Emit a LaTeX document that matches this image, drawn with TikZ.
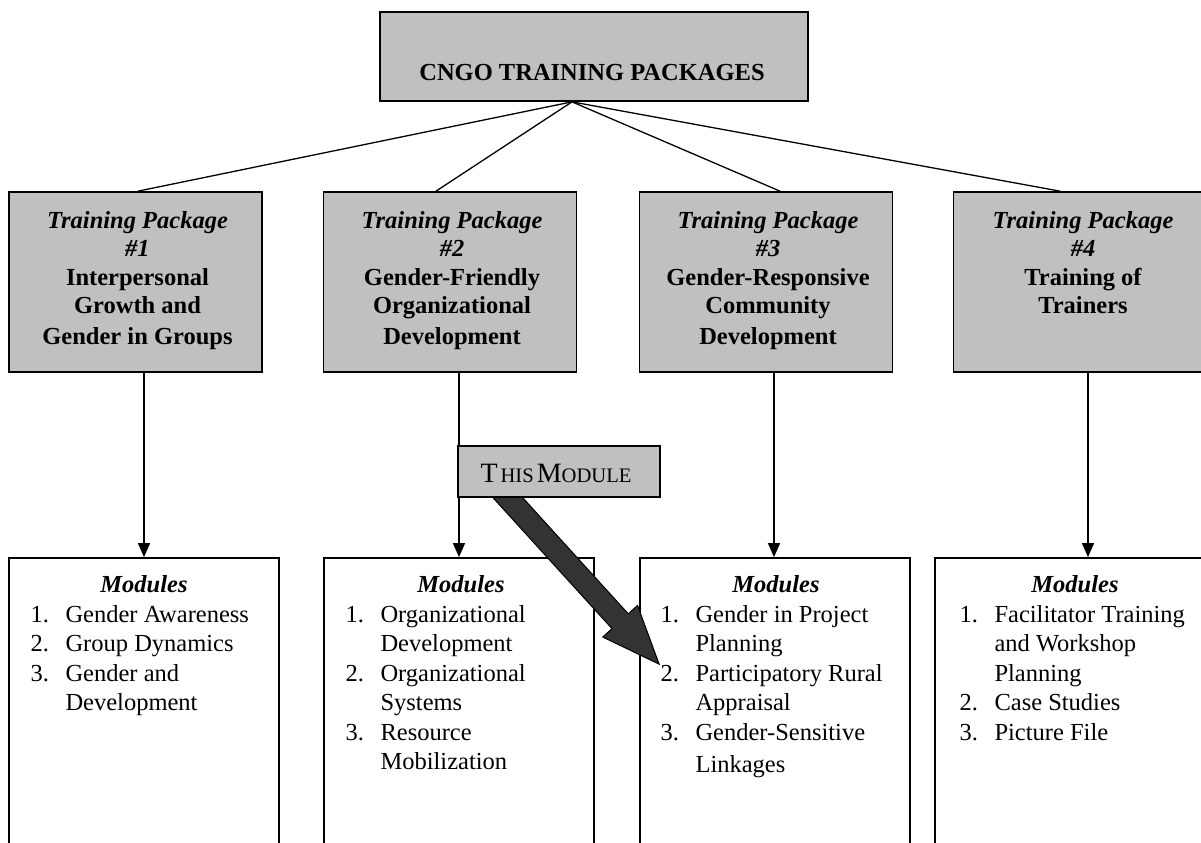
\documentclass[tikz,border=0pt]{standalone}
\usepackage{fontspec}
\setmainfont{Liberation Serif}
\usetikzlibrary{arrows.meta,calc}
\definecolor{boxgray}{HTML}{C0C0C0}
\definecolor{arrowgray}{HTML}{333333}
\newcommand\pkgfont{\fontsize{12.25}{14.25}\selectfont}
\newcommand\modfont{\fontsize{12.25}{14.75}\selectfont}
\newcommand\modlist[1]{\begin{tabular}[t]{@{}p{17.5pt}@{}l@{}}#1\end{tabular}}
\newcommand\pkglist[1]{\begin{tabular}[t]{@{}c@{}}#1\end{tabular}}
\begin{document}
\begin{tikzpicture}[x=0.5pt,y=-0.5pt,
  frame/.style={draw,line width=0.85pt,inner sep=0pt},
  titlebox/.style={frame,fill=boxgray,minimum width=214pt,minimum height=44.5pt},
  pkgbox/.style={frame,fill=boxgray,minimum width=126.5pt,minimum height=90pt},
  modbox/.style={frame,fill=white,minimum width=135pt,minimum height=152pt},
  thisbox/.style={frame,fill=boxgray,minimum width=101pt,minimum height=25.5pt},
  txt/.style={inner sep=0pt,anchor=base},
  listtxt/.style={inner sep=0pt,anchor=base west},
  conn/.style={line width=0.65pt},
  downarrow/.style={conn,-{Triangle[width=6pt,length=7pt]}},
  fatarrow/.style={fill=arrowgray,draw=black,line width=0.5pt,line join=miter}]
\useasboundingbox (0,0) rectangle (1201,842);

% module boxes (open at the bottom of the page)
\node[modbox] (m1) at (144,710) {};
\node[modbox] (m2) at (459,710) {};
\node[modbox] (m3) at (775,710) {};
\node[modbox] (m4) at (1070,710) {};

% training package boxes
\node[pkgbox] (p1) at (135.5,282) {};
\node[pkgbox] (p2) at (450,282) {};
\node[pkgbox] (p3) at (766,282) {};
\node[pkgbox] (p4) at (1080,282) {};

% title box
\node[titlebox] (top) at (594,56.5) {};
\node[txt] (toptext) at (592,80) {\pkgfont\bfseries CNGO TRAINING PACKAGES};

% package labels
\node[txt] (p1text) at (137.5,228) {\pkgfont\bfseries\pkglist{\itshape Training Package\\ \itshape \#1\\ Interpersonal\\ Growth and\\[1pt] Gender in Groups}};
\node[txt] (p2text) at (452,228) {\pkgfont\bfseries\pkglist{\itshape Training Package\\ \itshape \#2\\ Gender-Friendly\\ Organizational\\[1pt] Development}};
\node[txt] (p3text) at (768,228) {\pkgfont\bfseries\pkglist{\itshape Training Package\\ \itshape \#3\\ Gender-Responsive\\ Community\\[1pt] Development}};
\node[txt] (p4text) at (1083,228) {\pkgfont\bfseries\pkglist{\itshape Training Package\\ \itshape \#4\\ Training of\\ Trainers}};

% module headings
\node[txt] (h1) at ($(m1.north)+(0,35)$) {\modfont\bfseries\itshape Modules};
\node[txt] (h2) at ($(m2.north)+(2,35)$) {\modfont\bfseries\itshape Modules};
\node[txt] (h3) at ($(m3.north)+(1,35)$) {\modfont\bfseries\itshape Modules};
\node[txt] (h4) at ($(m4.north)+(5,35)$) {\modfont\bfseries\itshape Modules};

% module lists
\node[listtxt] (l1) at ($(m1.north west)+(22,65)$) {\modfont\modlist{1. & Gender Awareness\\ 2. & Group Dynamics\\ 3. & Gender and\\ & Development}};
\node[listtxt] (l2) at ($(m2.north west)+(22,65)$) {\modfont\modlist{1. & Organizational\\ & Development\\ 2. & Organizational\\ & Systems\\ 3. & Resource\\ & Mobilization}};
\node[listtxt] (l3) at ($(m3.north west)+(21,65)$) {\modfont\modlist{1. & Gender in Project\\ & Planning\\ 2. & Participatory Rural\\ & Appraisal\\ 3. & Gender-Sensitive\\[1.5pt] & Linkages}};
\node[listtxt] (l4) at ($(m4.north west)+(25,65)$) {\modfont\modlist{1. & Facilitator Training\\ & and Workshop\\ & Planning\\ 2. & Case Studies\\ 3. & Picture File}};

% connectors from the title box
\coordinate (apex) at ($(top.south)+(-22,0)$);
\draw[conn] (apex) -- ($(p1.north)+(2.5,0)$);
\draw[conn] (apex) -- ($(p2.north)+(-14,0)$);
\draw[conn] (apex) -- ($(p3.north)+(14,0)$);
\draw[conn] (apex) -- ($(p4.north)+(-20,0)$);

% arrows from packages to their modules
\coordinate (d1) at ($(p1.south)+(8.5,0)$);
\coordinate (d2) at ($(p2.south)+(9,0)$);
\coordinate (d3) at ($(p3.south)+(8,0)$);
\coordinate (d4) at ($(p4.south)+(8,0)$);
\draw[downarrow] (d1) -- (d1 |- m1.north);
\draw[downarrow] (d2) -- (d2 |- m2.north);
\draw[downarrow] (d3) -- (d3 |- m3.north);
\draw[downarrow] (d4) -- (d4 |- m4.north);

% block arrow from the "this module" tag
\node[thisbox] (this) at (559,471.5) {};
\coordinate (fs) at ($(this.south)+(-61.1,-11.1)$);
\coordinate (ft) at ($(m3.north west)+(20,107)$);
\coordinate (fb) at ($(ft)!29pt!(fs)$);
\path[fatarrow] ($(fs)!5.5pt!90:(ft)$) -- ($(fb)!5.5pt!90:(ft)$) -- ($(fb)!11.75pt!90:(ft)$) -- (ft)
  -- ($(fb)!11.75pt!-90:(ft)$) -- ($(fb)!5.5pt!-90:(ft)$) -- ($(fs)!5.5pt!-90:(ft)$) -- cycle;
\node[thisbox] (thisagain) at (this) {};
\node[txt] (thistext) at (556,482) {\fontsize{14}{16}\selectfont T\kern1.5pt{\fontsize{10.3}{12}\selectfont HIS}\kern1.5pt M{\fontsize{10.3}{12}\selectfont ODULE}};
\end{tikzpicture}
\end{document}
